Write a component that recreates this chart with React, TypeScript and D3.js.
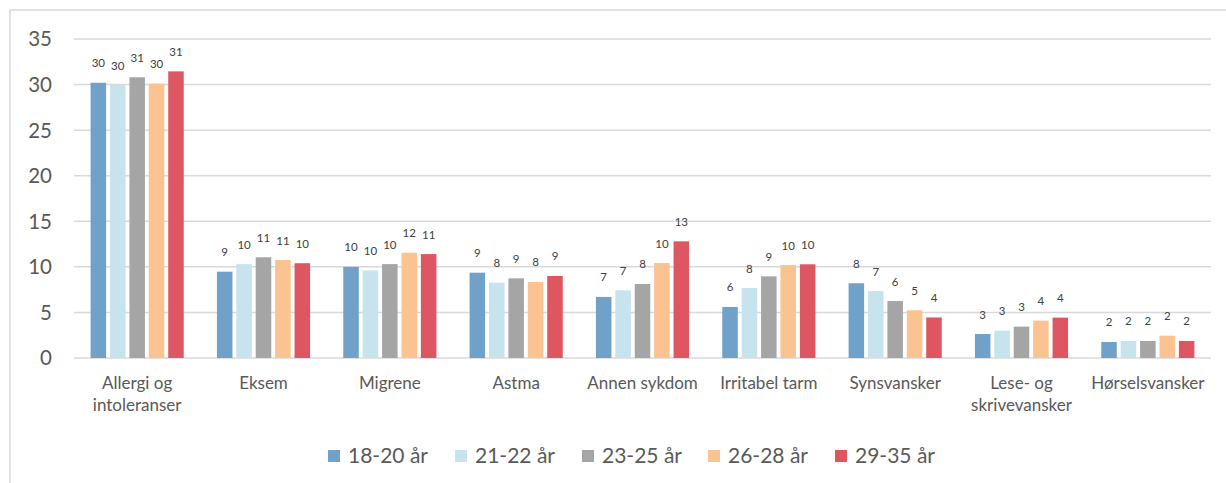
import React from "react";
import * as d3 from "d3";

const categories = [
  "Allergi og\nintoleranser",
  "Eksem",
  "Migrene",
  "Astma",
  "Annen sykdom",
  "Irritabel tarm",
  "Synsvansker",
  "Lese- og\nskrivevansker",
  "Hørselsvansker",
];

const seriesNames = ["18-20 år", "21-22 år", "23-25 år", "26-28 år", "29-35 år"];
const seriesColors = ["#70A1C8", "#C7E3EE", "#A5A5A5", "#FAC391", "#DF5663"];

const s1820 = [30.2, 9.47, 10.0, 9.36, 6.7, 5.6, 8.2, 2.63, 1.76];
const s2122 = [29.95, 10.3, 9.6, 8.26, 7.43, 7.68, 7.35, 3.0, 1.87];
const s2325 = [30.8, 11.05, 10.3, 8.74, 8.12, 8.96, 6.25, 3.44, 1.87];
const s2628 = [30.1, 10.75, 11.55, 8.34, 10.42, 10.2, 5.23, 4.1, 2.45];
const s2935 = [31.45, 10.4, 11.4, 9.0, 12.8, 10.28, 4.45, 4.43, 1.87];

const seriesValues = [s1820, s2122, s2325, s2628, s2935];
const yTicks = [0, 5, 10, 15, 20, 25, 30, 35];

const W = 1226;
const H = 483;
const FONT = "Lato, 'Open Sans', sans-serif";

export default function App() {
  const x0 = d3
    .scaleBand<string>()
    .domain(categories)
    .range([74, 1211])
    .paddingInner(0.232)
    .paddingOuter(0.116);
  const x1 = d3
    .scaleBand<string>()
    .domain(seriesNames)
    .range([0, x0.bandwidth()])
    .paddingInner(0.2)
    .paddingOuter(0.1);
  const y = d3.scaleLinear().domain([0, 35]).range([358, 39]);

  const legendX = [328, 455, 582, 708, 835];

  return (
    <svg
      width={W}
      height={H}
      style={{ position: "absolute", left: 0, top: 0, background: "#fff" }}
      fontFamily={FONT}
    >
      <rect x={0} y={0} width={W} height={H} fill="#fff" />
      <rect
        x={10}
        y={10}
        width={W + 50}
        height={H + 50}
        fill="none"
        stroke="#D9D9D9"
        strokeWidth={1.5}
      />
      {yTicks.map((t) => (
        <g key={t}>
          <line
            x1={74}
            x2={1211}
            y1={y(t)}
            y2={y(t)}
            stroke="#D9D9D9"
            strokeWidth={1.5}
          />
          <text
            x={52}
            y={y(t)}
            dy="0.36em"
            textAnchor="end"
            fontSize={20.5}
            fill="#595959"
          >
            {t}
          </text>
        </g>
      ))}
      {categories.map((c, ci) => (
        <g key={c} transform={`translate(${x0(c)},0)`}>
          {seriesNames.map((s, si) => {
            const v = seriesValues[si][ci];
            const bx = x1(s)!;
            const bw = x1.bandwidth();
            return (
              <g key={s}>
                <rect
                  x={bx}
                  y={y(v)}
                  width={bw}
                  height={y(0) - y(v)}
                  fill={seriesColors[si]}
                />
                <text
                  x={bx + bw / 2}
                  y={y(v) - 15.5}
                  textAnchor="middle"
                  fontSize={11.5}
                  fill="#404040"
                >
                  {Math.round(v)}
                </text>
              </g>
            );
          })}
          {c.split("\n").map((line, li) => (
            <text
              key={li}
              x={x0.bandwidth() / 2}
              y={389 + li * 22.4}
              textAnchor="middle"
              fontSize={17}
              fill="#595959"
            >
              {line}
            </text>
          ))}
        </g>
      ))}
      {seriesNames.map((s, si) => (
        <g key={s}>
          <rect
            x={legendX[si]}
            y={450}
            width={12}
            height={12}
            fill={seriesColors[si]}
          />
          <text x={legendX[si] + 20} y={462.5} fontSize={21} fill="#595959">
            {s}
          </text>
        </g>
      ))}
    </svg>
  );
}
